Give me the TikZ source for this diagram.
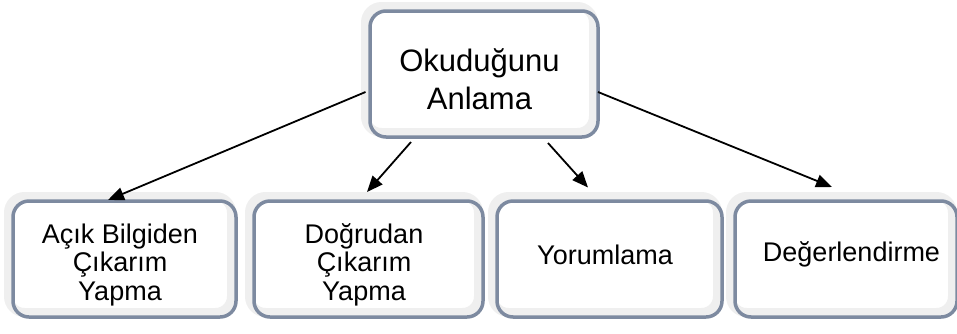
\documentclass[tikz,border=0pt]{standalone}
\usepackage{fontspec}
\setmainfont{Liberation Sans}
\usetikzlibrary{arrows.meta,positioning}
\definecolor{kutugri}{RGB}{239,239,239}
\definecolor{kutumavi}{RGB}{125,138,160}
\tikzset{
  kutu/.style={rectangle,rounded corners=16pt,draw=kutugri,line width=9pt,
               fill=white,inner sep=0pt,outer sep=0pt,align=center,
               minimum width=#1,minimum height=116pt,
               font=\fontsize{27}{28.5}\selectfont,
               postaction={draw=kutumavi,line width=3.5pt,
                           transform canvas={shift={(4.5pt,-4.5pt)}}}},
  kutu/.default=224pt,
  ok/.style={-{Triangle[length=16pt,width=13pt]},line width=1.8pt,black},
}
\begin{document}
\begin{tikzpicture}
  \useasboundingbox (0,0) rectangle (957pt,-333pt);

  %% ana kavram
  \node[kutu=228pt,minimum height=126pt,font=\fontsize{31}{38}\selectfont]
    (ana) at (479.5pt,-69.5pt) {\rule{0pt}{42pt}Okuduğunu\\Anlama};

  %% alt basamaklar
  \node[kutu=223pt] (acik)  at (120pt,-254.5pt)
    {\rule{0pt}{40pt}Açık Bilgiden\\Çıkarım\\Yapma};
  \node[kutu=229pt] (dogru) at (364pt,-254.5pt)
    {\rule{0pt}{40pt}Doğrudan\\Çıkarım\\Yapma};
  \node[kutu=225pt] (yorum) at (605pt,-254.5pt) {Yorumlama};
  \node[kutu=222pt] (deger) at (841.5pt,-254.5pt)
    {\hspace*{20pt}Değerlendirme};

  %% oklar
  \draw[ok] ([yshift=-22.5pt]ana.west) -- ([xshift=-12pt,yshift=-3.5pt]acik.north);
  \draw[ok] ([xshift=-68.5pt,yshift=-9.5pt]ana.south) -- ([xshift=3pt,yshift=4.5pt]dogru.north);
  \draw[ok] ([xshift=68.5pt,yshift=-10.5pt]ana.south) -- ([xshift=-17pt,yshift=9pt]yorum.north);
  \draw[ok] ([xshift=4.5pt,yshift=-22.5pt]ana.east) -- ([xshift=-9.5pt,yshift=9.5pt]deger.north);

\end{tikzpicture}
\end{document}
